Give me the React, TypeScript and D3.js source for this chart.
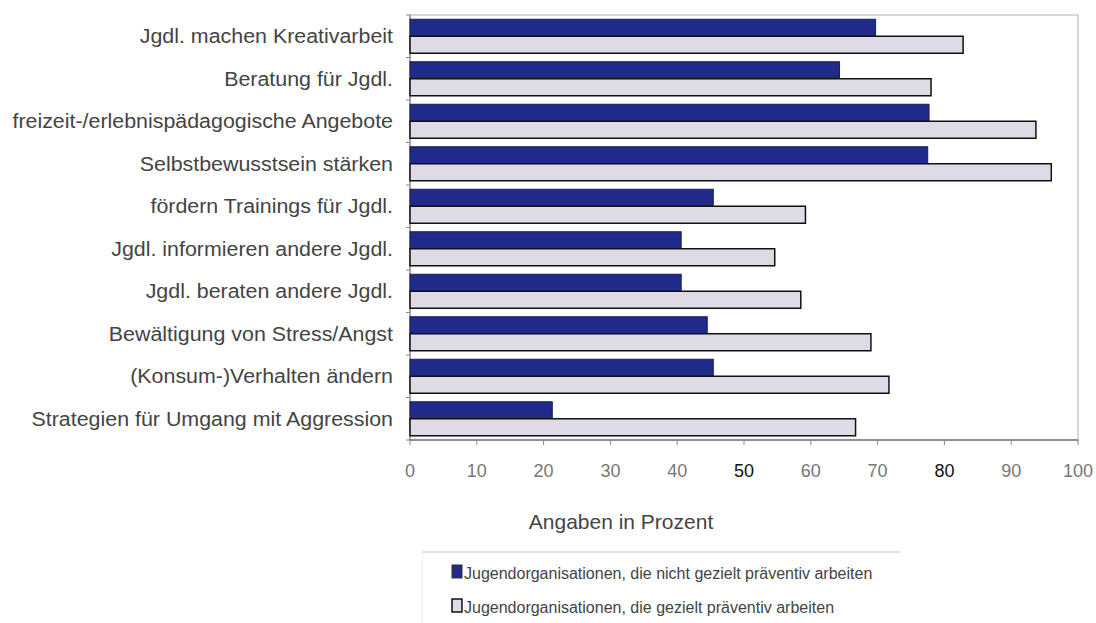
import React from "react";
import * as d3 from "d3";

const categories = [
  "Jgdl. machen Kreativarbeit",
  "Beratung für Jgdl.",
  "freizeit-/erlebnispädagogische Angebote",
  "Selbstbewusstsein stärken",
  "fördern Trainings für Jgdl.",
  "Jgdl. informieren andere Jgdl.",
  "Jgdl. beraten andere Jgdl.",
  "Bewältigung von Stress/Angst",
  "(Konsum-)Verhalten ändern",
  "Strategien für Umgang mit Aggression",
];
const nichtGezielt = [69.7, 64.3, 77.7, 77.5, 45.4, 40.6, 40.6, 44.5, 45.4, 21.3];
const gezielt = [82.8, 78, 93.7, 96, 59.2, 54.6, 58.5, 69, 71.7, 66.7];
const seriesNames = [
  "Jugendorganisationen, die nicht gezielt präventiv arbeiten",
  "Jugendorganisationen, die gezielt präventiv arbeiten",
];
const xTicks = [0, 10, 20, 30, 40, 50, 60, 70, 80, 90, 100];
const axisTitle = "Angaben in Prozent";

const FONT = "'Liberation Sans', Arial, sans-serif";
const DARK = "#1f2a8a";
const LIGHT = "#dedbe6";

export default function App() {
  const width = 1096;
  const height = 623;
  const left = 410;
  const right = 1078;
  const top = 15;
  const bottom = 440;

  const x = d3.scaleLinear().domain([0, 100]).range([left, right]);
  const y = d3
    .scaleBand<string>()
    .domain(categories)
    .range([top, bottom])
    .paddingInner(0.2)
    .paddingOuter(0.1);
  const bw = y.bandwidth();
  const step = y.step();
  const half = bw / 2;
  const sx = 1.07;

  return (
    <svg
      width={width}
      height={height}
      style={{ position: "absolute", left: 0, top: 0, background: "#fff" }}
      fontFamily={FONT}
    >
      <rect x={0} y={0} width={width} height={height} fill="#fff" />
      {/* plot frame */}
      <rect x={left} y={top} width={right - left} height={bottom - top} fill="none" stroke="#b0b0b0" strokeWidth={1} />
      {/* left axis */}
      <line x1={left} y1={top} x2={left} y2={bottom} stroke="#777" />
      {categories.map((c, i) => (
        <line key={"yt" + i} x1={left - 4} x2={left} y1={top + i * step} y2={top + i * step} stroke="#888" />
      ))}
      <line x1={left - 4} x2={left} y1={bottom} y2={bottom} stroke="#888" />

      {/* bars */}
      {categories.map((c, i) => {
        const y0 = y(c)!;
        return (
          <g key={"b" + i}>
            <rect x={x(0)} y={y0} width={x(nichtGezielt[i]) - x(0)} height={half} fill={DARK} stroke="#1a1f5e" strokeWidth={1} />
            <rect x={x(0)} y={y0 + half} width={x(gezielt[i]) - x(0)} height={half} fill={LIGHT} stroke="#111" strokeWidth={1.5} />
          </g>
        );
      })}

      {/* bottom axis */}
      <line x1={left} y1={bottom} x2={right} y2={bottom} stroke="#777" strokeWidth={1.5} />
      {xTicks.map((t) => (
        <g key={"xt" + t}>
          <line x1={x(t)} x2={x(t)} y1={bottom} y2={bottom + 5} stroke="#888" />
          <text
            x={x(t)}
            y={477}
            textAnchor="middle"
            fontSize={18}
            fill={t === 50 || t === 80 ? "#111" : "#777"}
          >
            {t}
          </text>
        </g>
      ))}

      {/* category labels */}
      {categories.map((c) => (
        <text
          key={"cl" + c}
          transform={`translate(393,${y(c)! + bw / 2 + 7}) scale(${sx},1)`}
          textAnchor="end"
          fontSize={20}
          fill="#444"
        >
          {c}
        </text>
      ))}

      {/* axis title */}
      <text transform={`translate(621,529) scale(1.05,1)`} textAnchor="middle" fontSize={20} fill="#444">
        {axisTitle}
      </text>

      {/* legend */}
      <line x1={422} x2={900} y1={552} y2={552} stroke="#c8c8c8" />
      <line x1={422} x2={422} y1={552} y2={623} stroke="#ececec" />
      <rect x={452} y={565} width={10} height={13} fill={DARK} stroke="#333" />
      <text x={464} y={579} fontSize={16} fill="#444">{seriesNames[0]}</text>
      <rect x={452} y={599} width={10} height={13} fill={LIGHT} stroke="#111" strokeWidth={1.5} />
      <text x={464} y={613} fontSize={16} fill="#444">{seriesNames[1]}</text>
    </svg>
  );
}
